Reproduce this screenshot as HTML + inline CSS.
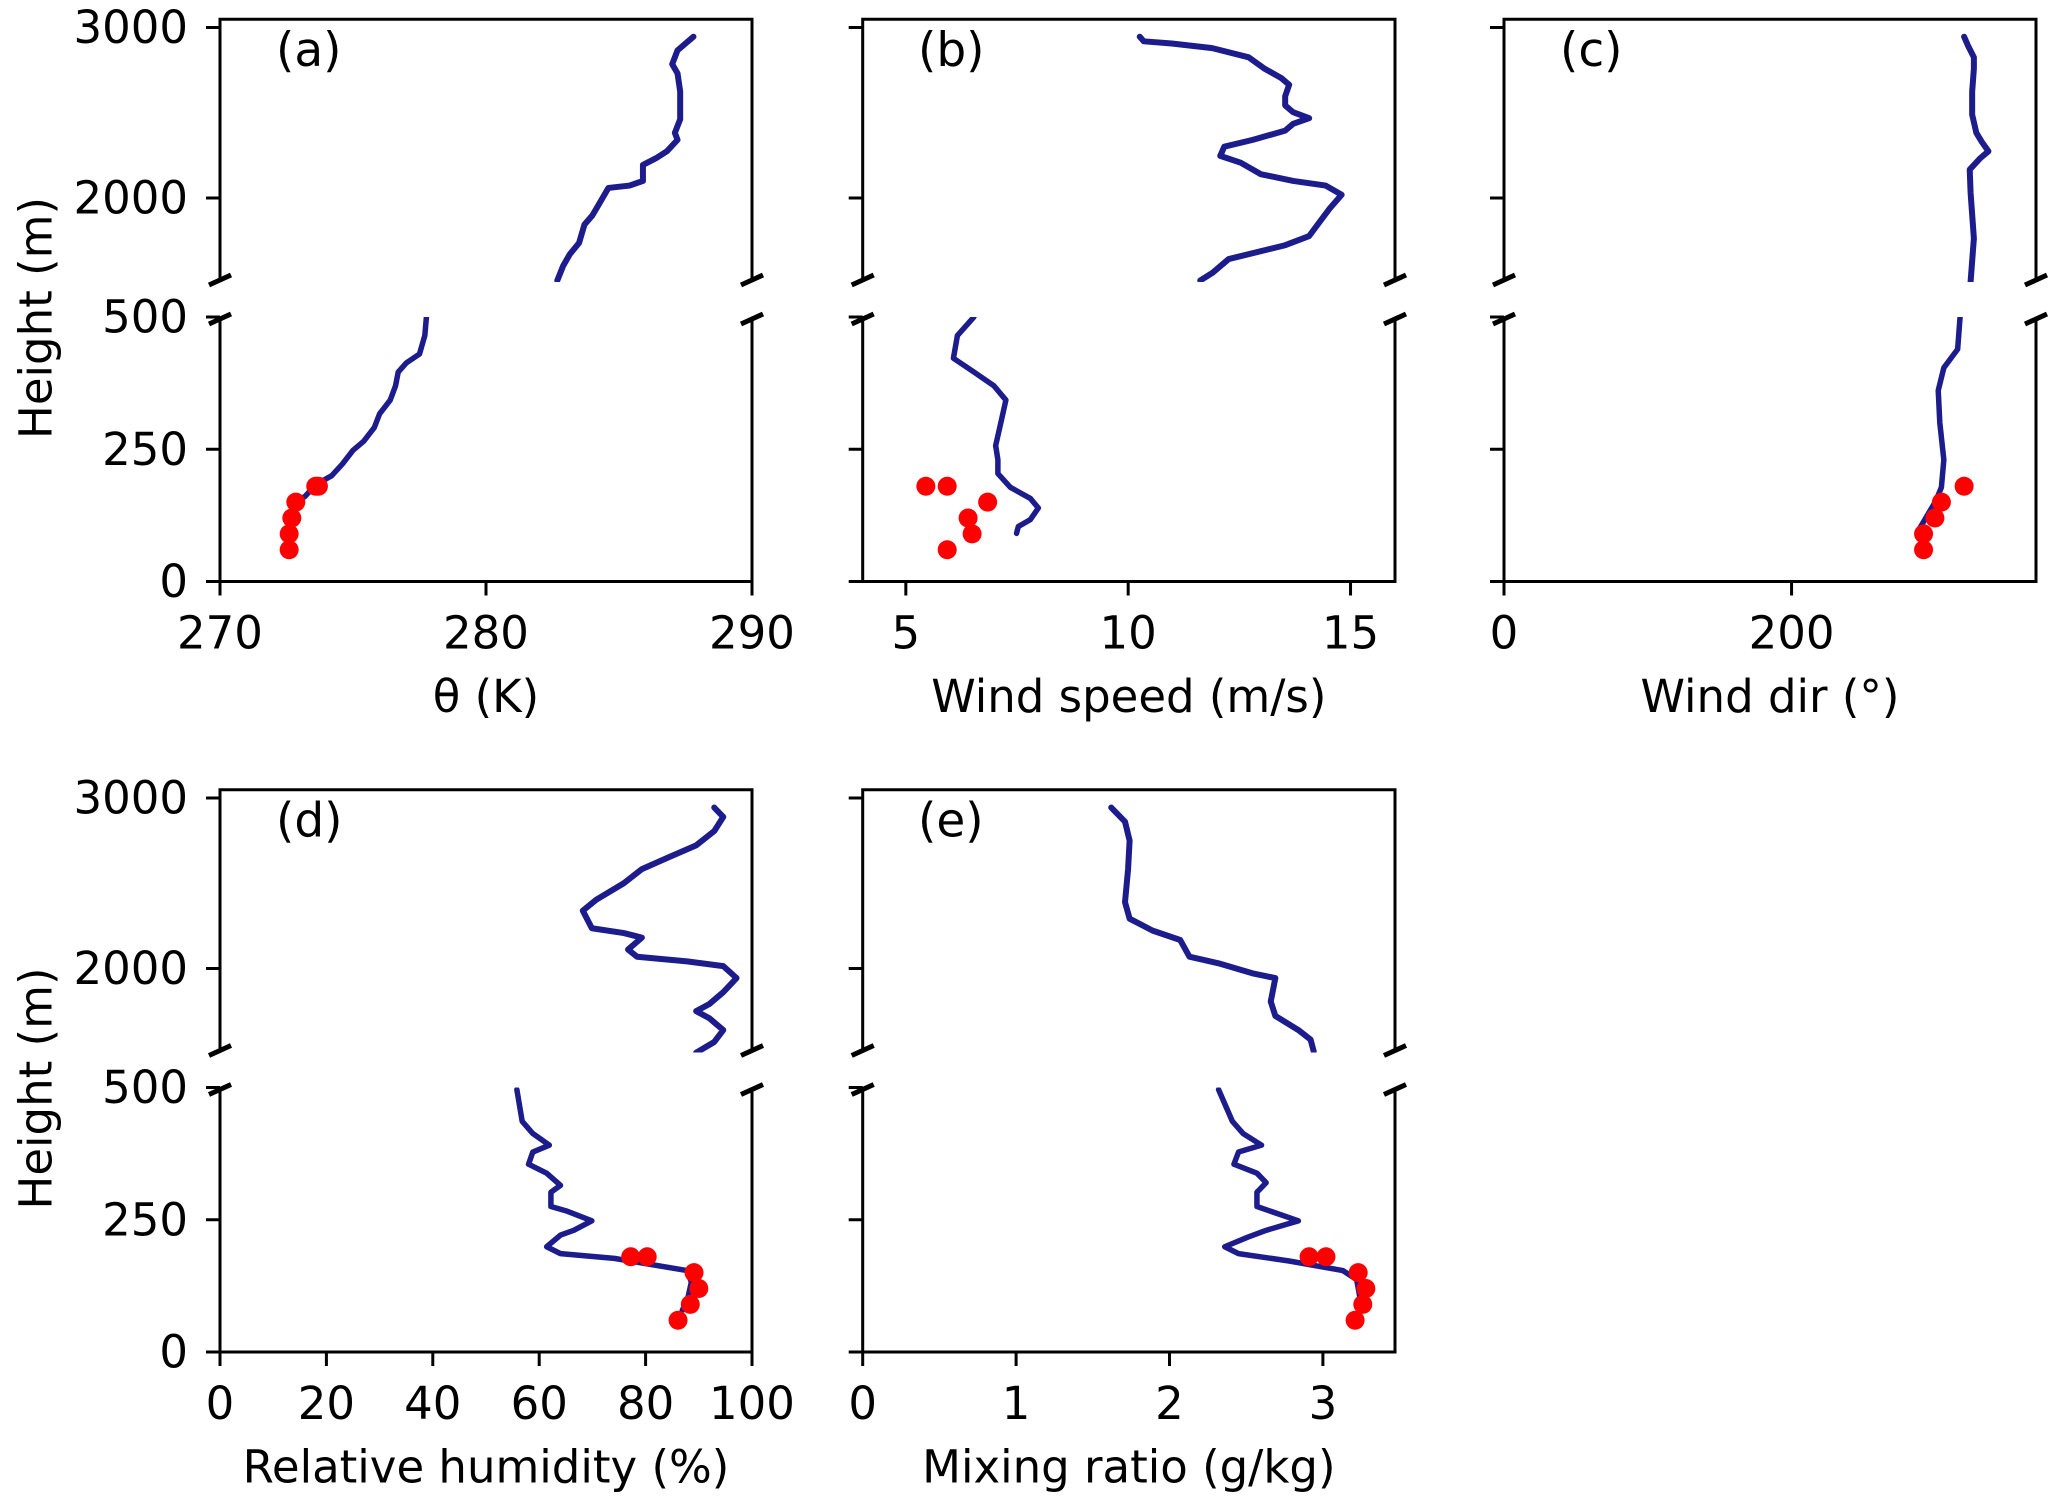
<!DOCTYPE html>
<html><head><meta charset="utf-8"><style>
html,body{margin:0;padding:0;background:#fff;}
svg{display:block;font-family:"DejaVu Sans","Liberation Sans",sans-serif;}
</style></head><body>
<svg id="fig" width="2067" height="1503" viewBox="0 0 2067 1503" xmlns="http://www.w3.org/2000/svg"></svg>
<script>
// ---- data (value, height m) ----
const thetaUpperV=[282.68,282.9,283.15,283.5,283.7,284,284.3,284.6,285.4,285.9,285.9,286.4,286.8,287.2,287.1,287.3,287.3,287.2,287,287.2,287.5,287.8];
const thetaUpperH=[1516,1602,1670,1737,1844,1898,1978,2059,2073,2100,2194,2234,2274,2341,2382,2462,2624,2731,2785,2866,2906,2946];
const thetaLowerV=[277.76,277.7,277.5,277,276.7,276.6,276.4,276,275.8,275.4,275,274.6,274.2,273.6,273.2,272.9];
const thetaLowerH=[500,465,430,413,396,370,343,317,291,265,248,222,200,183,161,152];
const thetaObsV=[273.7,273.6,272.85,272.7,272.6,272.6];
const obsH=[180,180,150,120,90,60];

const wsUpperV=[11.62,11.9,12.26,13.53,14.07,14.26,14.53,14.8,14.44,13.71,12.98,12.53,12.07,12.16,12.8,13.53,13.71,14.07,13.71,13.53,13.53,13.62,13.44,13.07,12.71,11.89,10.98,10.35,10.26];
const wsUpperH=[1516,1562,1642,1723,1777,1844,1938,2019,2073,2100,2140,2207,2247,2301,2341,2395,2435,2468,2503,2543,2597,2664,2704,2758,2825,2879,2906,2919,2946];
const wsLowerV=[6.53,6.16,6.07,6.53,6.98,7.25,7.16,7.02,7.07,7.07,7.35,7.8,7.98,7.8,7.53,7.49];
const wsLowerH=[500,465,422,396,370,343,309,257,230,204,178,157,139,117,104,91];
const wsObsV=[5.45,5.93,6.84,6.4,6.49,5.93];
const wsObsH=[180,180,150,120,90,60];

const wdUpperV=[324.5,326.8,324.5,323.9,331.3,336.9,332.4,328.5,325.6,325.6,326.8,326.8,322.8,320];
const wdUpperH=[1508,1763,2032,2167,2234,2274,2328,2382,2489,2624,2758,2825,2892,2946];
const wdLowerV=[317.2,315.5,305.9,302,303.1,305.9,304.2,300.3,294.6,289];
const wdLowerH=[500,439,404,361,300,230,178,152,126,100];
const wdObsV=[320,304.2,299.7,291.8,291.8];
const wdObsH=[180,150,120,90,60];

const rhUpperV=[89.5,92.9,94.6,92,89.5,92,94.6,97.1,94.6,87.8,78.4,76.7,79.3,75.9,69.9,68.2,70.7,75.9,79.3,84.4,89.5,92.9,94.6,92.9];
const rhUpperH=[1506,1569,1639,1708,1750,1792,1861,1944,2014,2042,2069,2111,2181,2208,2236,2339,2403,2500,2583,2653,2722,2806,2889,2944];
const rhLowerV=[55.8,56.8,58.8,61.9,58.8,58,61.4,64,62.2,62.2,65.3,69.9,66.5,64,61.4,64,74.1,87.8,88.6,87.8,86.9];
const rhLowerH=[496,436,413,391,378,355,338,315,302,275,266,248,230,221,199,186,177,154,132,96,79];
const rhObsV=[77.2,80.3,89.1,90,88.4,86.1];

const mrUpperV=[2.94,2.92,2.84,2.69,2.66,2.69,2.54,2.33,2.13,2.07,1.89,1.74,1.71,1.73,1.74,1.71,1.62];
const mrUpperH=[1514,1583,1639,1722,1806,1944,1972,2028,2069,2167,2222,2292,2389,2583,2750,2861,2944];
const mrLowerV=[2.32,2.41,2.48,2.6,2.45,2.42,2.57,2.63,2.57,2.57,2.66,2.84,2.63,2.51,2.36,2.45,2.78,3.13,3.22,3.24];
const mrLowerH=[496,436,413,391,378,355,338,320,302,275,266,248,230,217,199,186,172,154,137,105];
const mrObsV=[2.91,3.02,3.23,3.28,3.26,3.21];

const xTicksA=[270,280,290], xTicksB=[5,10,15], xTicksC=[0,200], xTicksD=[0,20,40,60,80,100], xTicksE=[0,1,2,3];
const yTicksUpper=[2000,3000], yTicksLower=[0,250,500];

const NS="http://www.w3.org/2000/svg";
const svg=document.getElementById('fig');
function mk(tag,attrs,parent){const e=document.createElementNS(NS,tag);for(const k in attrs)e.setAttribute(k,attrs[k]);(parent||svg).appendChild(e);return e;}
const LINE="#1c1c8c";
const FS=45;

const panels=[
 {id:'a',x0:220,x1:752,dom:[270,290],off:0,ticks:xTicksA,label:'θ (K)',left:true,uV:thetaUpperV,uH:thetaUpperH,lV:thetaLowerV,lH:thetaLowerH,oV:thetaObsV,oH:obsH,lx:276},
 {id:'b',x0:862.7,x1:1395,dom:[4.03,16.0],off:0,ticks:xTicksB,label:'Wind speed (m/s)',left:false,uV:wsUpperV,uH:wsUpperH,lV:wsLowerV,lH:wsLowerH,oV:wsObsV,oH:wsObsH,lx:918},
 {id:'c',x0:1504,x1:2036,dom:[0,370],off:0,ticks:xTicksC,label:'Wind dir (°)',left:false,uV:wdUpperV,uH:wdUpperH,lV:wdLowerV,lH:wdLowerH,oV:wdObsV,oH:wdObsH,lx:1560},
 {id:'d',x0:220,x1:752,dom:[0,100],off:770.5,ticks:xTicksD,label:'Relative humidity (%)',left:true,uV:rhUpperV,uH:rhUpperH,lV:rhLowerV,lH:rhLowerH,oV:rhObsV,oH:obsH,lx:276},
 {id:'e',x0:862.7,x1:1395,dom:[0,3.47],off:770.5,ticks:xTicksE,label:'Mixing ratio (g/kg)',left:false,uV:mrUpperV,uH:mrUpperH,lV:mrLowerV,lH:mrLowerH,oV:mrObsV,oH:obsH,lx:918}
];

panels.forEach(p=>{
  const g=mk('g',{});
  
  
  const X=v=>p.x0+(v-p.dom[0])/(p.dom[1]-p.dom[0])*(p.x1-p.x0);
  const YU=h=>p.off+198-(h-2000)*0.1705;
  const YL=h=>p.off+581.5-h*0.529;
  const uTop=p.off+19.3,uBot=p.off+282,lTop=p.off+317,lBot=p.off+581.5;
  const cu=mk('clipPath',{id:'cu'+p.id},g);mk('rect',{x:p.x0,y:uTop,width:p.x1-p.x0,height:uBot-uTop},cu);
  const cl=mk('clipPath',{id:'cl'+p.id},g);mk('rect',{x:p.x0,y:lTop,width:p.x1-p.x0,height:lBot-lTop},cl);
  const up=mk('polyline',{points:p.uV.map((v,i)=>X(v)+','+YU(p.uH[i])).join(' '),fill:'none',stroke:LINE,'stroke-width':6,'stroke-linejoin':'round','stroke-linecap':'round','clip-path':'url(#cu'+p.id+')'},g);
  
  
  const lo=mk('polyline',{points:p.lV.map((v,i)=>X(v)+','+YL(p.lH[i])).join(' '),fill:'none',stroke:LINE,'stroke-width':5.5,'stroke-linejoin':'round','stroke-linecap':'round','clip-path':'url(#cl'+p.id+')'},g);
  
  
  p.oV.forEach((v,i)=>{
    const c=mk('circle',{cx:X(v),cy:YL(p.oH[i]),r:9.5,fill:'#ff0000'},g);
    
    
  });
  const sp={stroke:'#000','stroke-width':3,fill:'none'};
  mk('path',Object.assign({d:`M${p.x0},${uBot}V${uTop}H${p.x1}V${uBot}`},sp),g);
  mk('path',Object.assign({d:`M${p.x0},${lTop}V${lBot}H${p.x1}V${lTop}`},sp),g);
  [[p.x0,uBot-2],[p.x1,uBot-2],[p.x0,lTop+2],[p.x1,lTop+2]].forEach(([bx,by])=>{
    const b=mk('line',{x1:bx-11,y1:by+5,x2:bx+11,y2:by-5,stroke:'#000','stroke-width':5},g);
    
    
  });
  yTicksUpper.forEach(t=>{const y=YU(t);mk('line',{x1:p.x0-14,y1:y,x2:p.x0,y2:y,stroke:'#000','stroke-width':3},g);
    if(p.left){const tx=mk('text',{x:p.x0-32,y:y,'text-anchor':'end','dominant-baseline':'central','font-size':FS},g);tx.textContent=t;}});
  yTicksLower.forEach(t=>{const y=YL(t);mk('line',{x1:p.x0-14,y1:y,x2:p.x0,y2:y,stroke:'#000','stroke-width':3},g);
    if(p.left){const tx=mk('text',{x:p.x0-32,y:y,'text-anchor':'end','dominant-baseline':'central','font-size':FS},g);tx.textContent=t;}});
  p.ticks.forEach(t=>{const x=X(t);mk('line',{x1:x,y1:lBot,x2:x,y2:lBot+14,stroke:'#000','stroke-width':3},g);
    const tx=mk('text',{x:x,y:lBot+67,'text-anchor':'middle','font-size':FS},g);tx.textContent=t;
    
    });
  const xl=mk('text',{x:(p.x0+p.x1)/2,y:p.off+712,'text-anchor':'middle','font-size':FS},g);xl.textContent=p.label;
  
  
  const pl=mk('text',{x:p.lx,y:p.off+66,'font-size':47},g);pl.textContent='('+p.id+')';
  
  
  if(p.left){
    const cy=p.off+318;
    const yl=mk('text',{x:36,y:cy,'text-anchor':'middle','dominant-baseline':'central','font-size':FS,transform:`rotate(-90 36 ${cy})`},g);yl.textContent='Height (m)';
    
    
  }
});
</script>
</body></html>
